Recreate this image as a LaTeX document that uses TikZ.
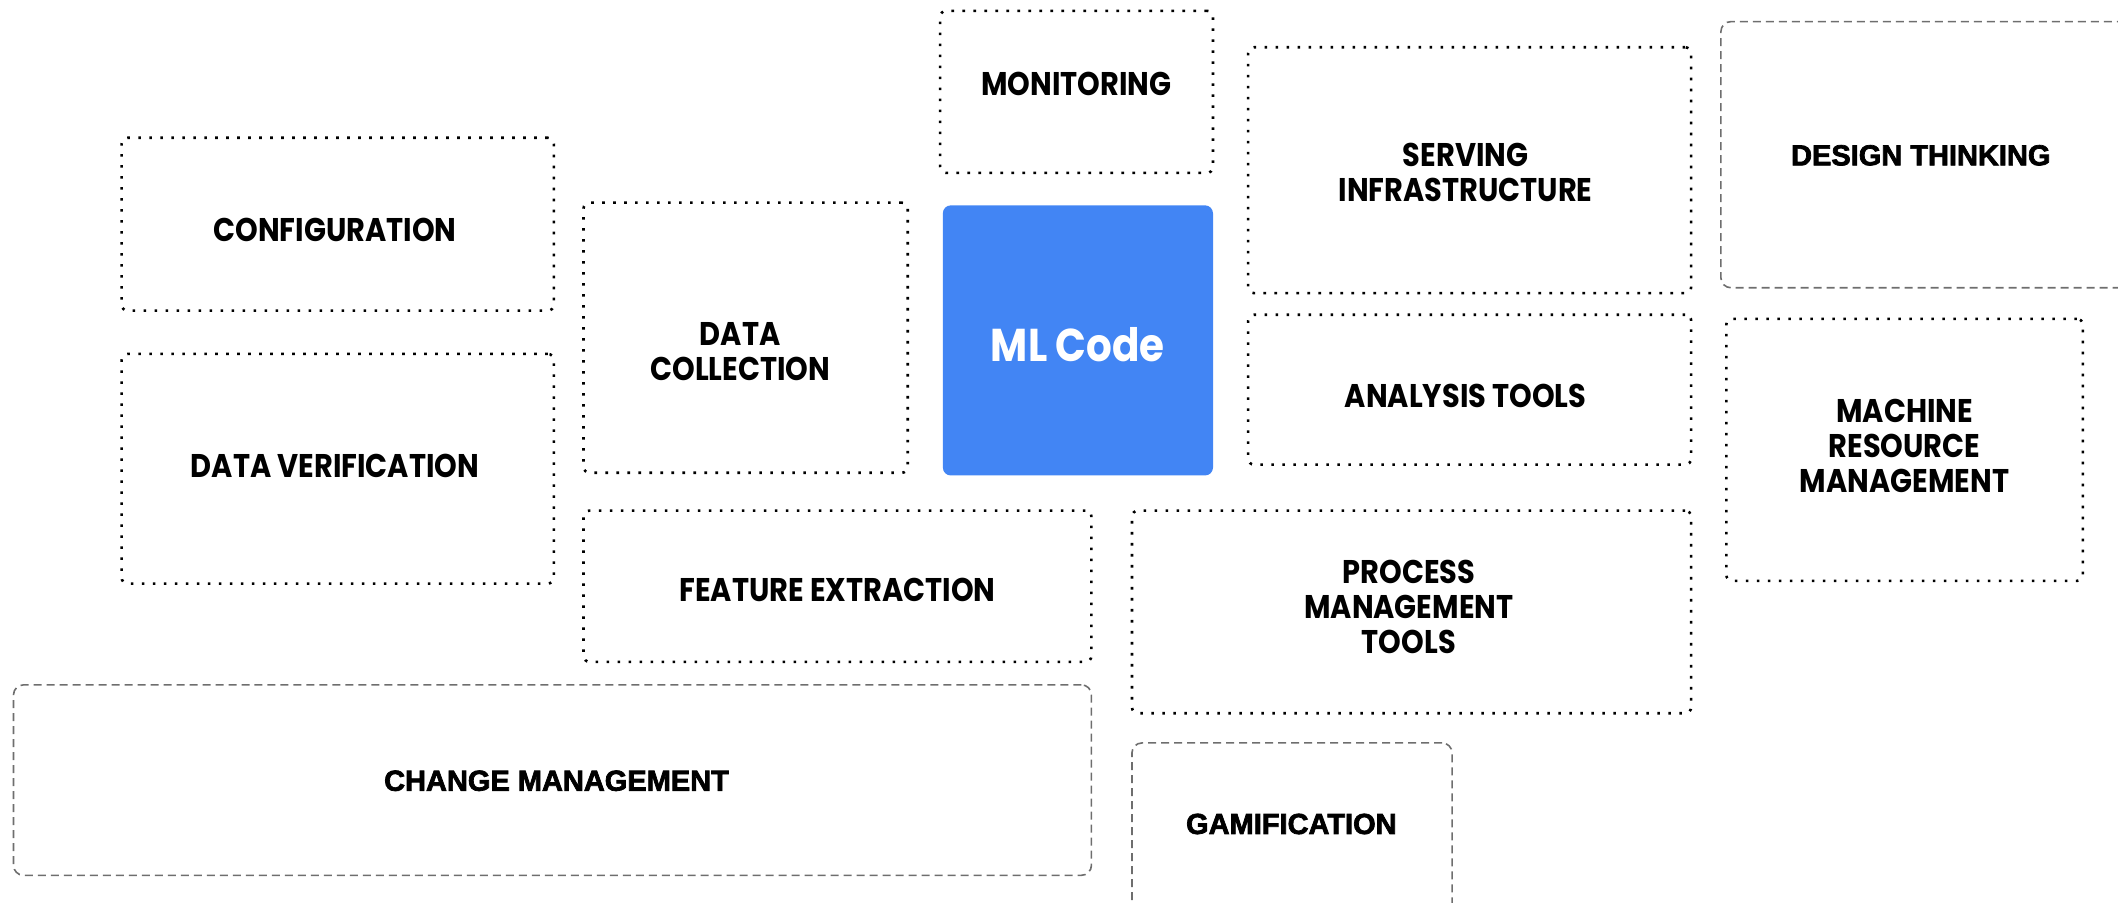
\documentclass[tikz,border=0pt]{standalone}
\usepackage{fontspec}
\setmainfont{Poppins}[FakeStretch=0.88]
\newfontfamily\robfont{Liberation Sans}[BoldFeatures={FakeBold=2.5}]
\usetikzlibrary{fit}
\definecolor{mlblue}{HTML}{4285F4}
\definecolor{dashgray}{HTML}{6E6E6E}
\begin{document}
\begin{tikzpicture}[x=0.33772pt, y=-0.33772pt,
  dotbox/.style={draw=black, line width=0.65pt, dash pattern=on 0.65pt off 2.1pt, rounded corners=1.5pt, inner sep=0pt},
  dashbox/.style={draw=dashgray, line width=0.4pt, dash pattern=on 2pt off 1.25pt, rounded corners=2.5pt, inner sep=0pt},
  mlbox/.style={fill=mlblue, draw=none, rounded corners=2pt, inner sep=0pt},
  lbl/.style={font=\bfseries\fontsize{8.2}{8.75}\selectfont, align=center, inner sep=0pt, text=black},
  lbltwo/.style={font=\robfont\bfseries\fontsize{7.25}{8.5}\selectfont, align=center, inner sep=0pt, text=black},
  mltext/.style={font=\bfseries\fontsize{11.5}{12}\selectfont, text=white, inner sep=0pt}]
\useasboundingbox (0,0) rectangle (1568,668);
\clip (0,0) rectangle (1568,668);
% boxes
\node[dotbox, fit={(90,102)(410,230)}] (cfgbox) {};
\node[dotbox, fit={(90,262)(410,432)}] (dvbox) {};
\node[dotbox, fit={(432,150)(672,350)}] (dcbox) {};
\node[dotbox, fit={(696,8)(898,128)}] (monbox) {};
\node[mlbox, fit={(698,152)(898,352)}] (mlcbox) {};
\node[dotbox, fit={(924,35)(1252,217)}] (sibox) {};
\node[dashbox, fit={(1274,16)(1590,213)}] (dtbox) {};
\node[dotbox, fit={(924,233)(1252,344)}] (atbox) {};
\node[dotbox, fit={(1278,236)(1542,430)}] (mrbox) {};
\node[dotbox, fit={(432,378)(808,490)}] (febox) {};
\node[dotbox, fit={(838,378)(1252,528)}] (pmbox) {};
\node[dashbox, fit={(10,507)(808,648)}] (cmbox) {};
\node[dashbox, fit={(838,550)(1075,680)}] (gmbox) {};
% labels
\node[lbl] (cfg) at (248,170) {CONFIGURATION};
\node[lbl] (dv) at (248,345) {DATA VERIFICATION};
\node[lbl] (dc) at (548,260) {DATA\\COLLECTION};
\node[lbl] (mon) at (797,62) {MONITORING};
\node[mltext] (mlc) at (798,255) {ML Code};
\node[lbl] (si) at (1085,128) {SERVING\\INFRASTRUCTURE};
\node[lbltwo] (dt) at (1422,115) {DESIGN THINKING};
\node[lbl] (at) at (1085,293) {ANALYSIS TOOLS};
\node[lbl] (mr) at (1410,330) {MACHINE\\RESOURCE\\MANAGEMENT};
\node[lbl] (fe) at (620,437) {FEATURE EXTRACTION};
\node[lbl] (pm) at (1043,449) {PROCESS\\MANAGEMENT\\TOOLS};
\node[lbltwo] (cm) at (412,578) {CHANGE MANAGEMENT};
\node[lbltwo] (gm) at (956,610) {GAMIFICATION};
\end{tikzpicture}
\end{document}
